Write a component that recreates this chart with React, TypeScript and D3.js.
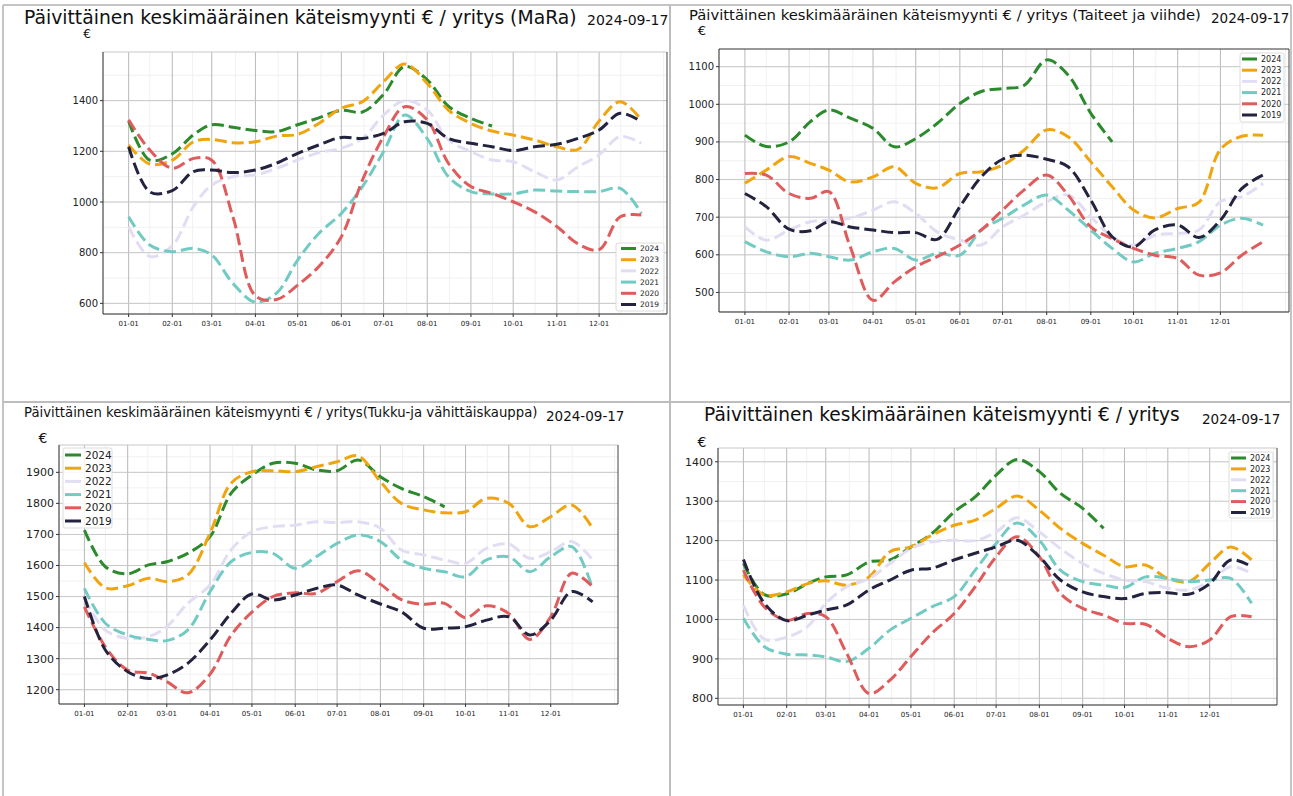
import { useLayoutEffect, useRef, useState } from "react";
import * as d3 from "d3";

// half-month sample days (day of year) shared by every series
const days = [0, 15, 31, 46, 59, 74, 90, 105, 120, 135, 151, 166, 181, 196, 212, 227, 243, 258, 273, 288, 304, 319, 334, 349, 364];
const monthTicks = [0, 31, 59, 90, 120, 151, 181, 212, 243, 273, 304, 334];
const monthLabels = ["01-01", "02-01", "03-01", "04-01", "05-01", "06-01", "07-01", "08-01", "09-01", "10-01", "11-01", "12-01"];
const years = ["2024", "2023", "2022", "2021", "2020", "2019"];
const yearColors = ["#2b8a2b", "#f0a50f", "#e3ddf3", "#72cbc3", "#e05c5c", "#23233f"];
const dateLabel = "2024-09-17";

// MaRa
const mara2024 = [1320, 1165, 1190, 1265, 1305, 1295, 1282, 1278, 1305, 1332, 1362, 1355, 1425, 1535, 1482, 1378, 1330, 1300];
const mara2023 = [1225, 1150, 1165, 1238, 1247, 1234, 1238, 1260, 1267, 1310, 1370, 1396, 1475, 1545, 1468, 1363, 1310, 1280, 1264, 1245, 1218, 1208, 1320, 1396, 1324];
const mara2022 = [903, 785, 828, 982, 1067, 1100, 1107, 1133, 1166, 1195, 1212, 1251, 1343, 1400, 1363, 1245, 1199, 1166, 1159, 1120, 1087, 1139, 1186, 1258, 1232];
const mara2021 = [942, 830, 804, 817, 791, 679, 605, 640, 771, 876, 955, 1061, 1199, 1343, 1250, 1100, 1041, 1032, 1032, 1047, 1043, 1041, 1041, 1054, 955];
const mara2020 = [1324, 1205, 1133, 1172, 1165, 942, 630, 615, 672, 745, 863, 1087, 1258, 1376, 1324, 1153, 1061, 1034, 1001, 962, 903, 835, 812, 942, 949];
const mara2019 = [1218, 1040, 1045, 1120, 1126, 1116, 1126, 1153, 1192, 1225, 1255, 1251, 1271, 1317, 1310, 1251, 1232, 1218, 1203, 1218, 1228, 1251, 1284, 1350, 1317];

// Taiteet ja viihde
const taiteet2024 = [918, 888, 900, 954, 985, 963, 936, 887, 909, 949, 1002, 1034, 1042, 1050, 1118, 1078, 976, 900];
const taiteet2023 = [790, 825, 861, 843, 825, 794, 807, 834, 790, 778, 816, 821, 838, 878, 932, 914, 847, 781, 719, 698, 723, 740, 880, 915, 918];
const taiteet2022 = [674, 639, 666, 688, 692, 697, 719, 741, 710, 661, 639, 626, 674, 705, 741, 759, 701, 648, 626, 652, 657, 666, 741, 754, 790];
const taiteet2021 = [635, 608, 595, 604, 595, 586, 608, 617, 586, 604, 599, 666, 697, 732, 759, 719, 666, 617, 581, 604, 617, 635, 679, 697, 679];
const taiteet2020 = [816, 812, 763, 750, 768, 621, 479, 528, 568, 595, 626, 666, 719, 772, 812, 759, 674, 643, 617, 599, 590, 546, 552, 599, 635];
const taiteet2019 = [763, 728, 668, 664, 688, 674, 666, 659, 659, 641, 728, 807, 854, 865, 854, 834, 745, 648, 621, 666, 679, 646, 692, 776, 812];

// Tukku- ja vähittäiskauppa
const tukku2024 = [1714, 1596, 1573, 1602, 1612, 1639, 1693, 1832, 1891, 1929, 1929, 1908, 1905, 1940, 1886, 1848, 1822, 1789];
const tukku2023 = [1609, 1528, 1535, 1559, 1548, 1569, 1704, 1865, 1902, 1905, 1902, 1918, 1934, 1953, 1870, 1800, 1779, 1770, 1773, 1816, 1800, 1725, 1757, 1795, 1720];
const tukku2022 = [1494, 1392, 1365, 1371, 1403, 1478, 1537, 1650, 1709, 1725, 1730, 1741, 1738, 1741, 1720, 1650, 1634, 1618, 1607, 1655, 1669, 1623, 1644, 1677, 1618];
const tukku2021 = [1526, 1414, 1376, 1362, 1358, 1392, 1516, 1612, 1642, 1639, 1591, 1628, 1671, 1698, 1677, 1618, 1591, 1580, 1564, 1618, 1628, 1580, 1628, 1661, 1526];
const tukku2020 = [1467, 1338, 1263, 1253, 1226, 1190, 1250, 1375, 1450, 1500, 1512, 1510, 1548, 1583, 1540, 1490, 1475, 1478, 1432, 1470, 1445, 1362, 1435, 1575, 1532];
const tukku2019 = [1500, 1328, 1258, 1236, 1247, 1285, 1360, 1446, 1508, 1489, 1505, 1526, 1537, 1505, 1476, 1451, 1398, 1398, 1403, 1424, 1435, 1376, 1424, 1516, 1483];

// Kaikki toimialat
const kaikki2024 = [1142, 1063, 1065, 1091, 1108, 1113, 1146, 1151, 1184, 1218, 1273, 1311, 1366, 1406, 1375, 1320, 1282, 1231];
const kaikki2023 = [1113, 1062, 1070, 1091, 1098, 1087, 1108, 1172, 1184, 1214, 1239, 1252, 1282, 1313, 1277, 1231, 1193, 1163, 1134, 1138, 1104, 1096, 1142, 1184, 1151];
const kaikki2022 = [1036, 950, 955, 982, 1041, 1083, 1104, 1142, 1180, 1197, 1201, 1200, 1222, 1258, 1222, 1180, 1142, 1117, 1100, 1096, 1079, 1075, 1096, 1134, 1117];
const kaikki2021 = [1003, 931, 912, 910, 905, 893, 927, 973, 1003, 1032, 1058, 1125, 1193, 1245, 1201, 1125, 1096, 1087, 1081, 1108, 1104, 1096, 1100, 1104, 1041];
const kaikki2020 = [1125, 1032, 998, 1015, 1007, 914, 812, 846, 906, 965, 1015, 1083, 1159, 1210, 1159, 1066, 1028, 1011, 990, 988, 952, 931, 948, 1007, 1007];
const kaikki2019 = [1152, 1041, 997, 1011, 1024, 1037, 1075, 1100, 1125, 1130, 1151, 1168, 1184, 1201, 1159, 1100, 1070, 1058, 1053, 1066, 1068, 1064, 1091, 1151, 1134];

const FONT = "DejaVu Sans, Verdana, sans-serif";

// layout of the four screenshots
const panels = [
  {
    title: "Päivittäinen keskimääräinen käteismyynti € / yritys (MaRa)",
    tx: 24, ty: 24, tSize: 17.5, tLen: 553,
    dx: 587, dy: 25, dSize: 14,
    ex: 87, ey: 38, eSize: 12,
    left: 103, right: 667, top: 52, bottom: 314,
    yDomain: [558, 1592], yTicks: [600, 800, 1000, 1200, 1400], yMinor: 100, ySize: 10,
    series: [mara2024, mara2023, mara2022, mara2021, mara2020, mara2019],
    legend: { x: 616, y: 243, w: 48, h: 68, first: 248.5, row: 11.2, hx0: 621, hx1: 636, lx: 640, size: 7.5 },
    topFrame: "#c8c8c8",
  },
  {
    title: "Päivittäinen keskimääräinen käteismyynti € / yritys (Taiteet ja viihde)",
    tx: 689, ty: 20, tSize: 15.5, tLen: 512,
    dx: 1211, dy: 23, dSize: 13.5,
    ex: 702, ey: 35, eSize: 13,
    left: 719, right: 1289, top: 49, bottom: 312,
    yDomain: [448, 1147], yTicks: [500, 600, 700, 800, 900, 1000, 1100], yMinor: 50, ySize: 10,
    series: [taiteet2024, taiteet2023, taiteet2022, taiteet2021, taiteet2020, taiteet2019],
    legend: { x: 1240, y: 53, w: 44, h: 69, first: 59, row: 11.2, hx0: 1242, hx1: 1257, lx: 1261, size: 8 },
    topFrame: "#333",
  },
  {
    title: "Päivittäinen keskimääräinen käteismyynti € / yritys(Tukku-ja vähittäiskauppa)",
    tx: 24, ty: 417, tSize: 14, tLen: 514,
    dx: 546, dy: 421, dSize: 13.5,
    ex: 43, ey: 443, eSize: 14,
    left: 59, right: 618, top: 445, bottom: 704,
    yDomain: [1154, 1988], yTicks: [1200, 1300, 1400, 1500, 1600, 1700, 1800, 1900], yMinor: 50, ySize: 11,
    series: [tukku2024, tukku2023, tukku2022, tukku2021, tukku2020, tukku2019],
    legend: { x: 63, y: 448, w: 49, h: 80, first: 455, row: 13.2, hx0: 65, hx1: 81, lx: 85, size: 10.5 },
    topFrame: "#c8c8c8",
  },
  {
    title: "Päivittäinen keskimääräinen käteismyynti € / yritys",
    tx: 704, ty: 421, tSize: 19, tLen: 476,
    dx: 1202, dy: 424, dSize: 13.5,
    ex: 702, ey: 447, eSize: 14,
    left: 718, right: 1277, top: 448, bottom: 705,
    yDomain: [783, 1435], yTicks: [800, 900, 1000, 1100, 1200, 1300, 1400], yMinor: 50, ySize: 11,
    series: [kaikki2024, kaikki2023, kaikki2022, kaikki2021, kaikki2020, kaikki2019],
    legend: { x: 1229, y: 452, w: 44, h: 66, first: 458, row: 10.9, hx0: 1231, hx1: 1246, lx: 1250, size: 8 },
    topFrame: "#c8c8c8",
  },
];

// title text whose font size is scaled so it spans the measured width of the screenshot
function FitTitle({ x, y, size, width, children }: any) {
  const ref = useRef<SVGTextElement>(null);
  const [fs, setFs] = useState(size);
  useLayoutEffect(() => {
    if (!ref.current) return;
    const w = ref.current.getComputedTextLength();
    if (w > 0 && Math.abs(w - width) > 1) setFs((s: number) => (s * width) / w);
  }, [width]);
  return (
    <text ref={ref} x={x} y={y} fontSize={fs} fill="#111">
      {children}
    </text>
  );
}

function Panel({ p }: { p: any }) {
  const x = d3.scaleLinear([-18.2, 382.2], [p.left, p.right]);
  const y = d3.scaleLinear(p.yDomain, [p.bottom, p.top]);
  const line = d3
    .line<[number, number]>()
    .x((d) => x(d[0]))
    .y((d) => y(d[1]))
    .curve(d3.curveCatmullRom.alpha(0.5));

  const minorX = d3.range(15, 382, 30.4);
  const minorY = d3.range(Math.ceil(p.yDomain[0] / p.yMinor) * p.yMinor, p.yDomain[1], p.yMinor);
  const lg = p.legend;

  return (
    <g>
      <FitTitle x={p.tx} y={p.ty} size={p.tSize} width={p.tLen}>
        {p.title}
      </FitTitle>
      <text x={p.dx} y={p.dy} fontSize={p.dSize} fill="#111">{dateLabel}</text>
      <text x={p.ex} y={p.ey} fontSize={p.eSize} textAnchor="middle" fill="#111">€</text>

      <rect x={p.left} y={p.top} width={p.right - p.left} height={p.bottom - p.top} fill="#fff" />
      {minorX.map((d, i) => (
        <line key={"mx" + i} x1={x(d)} x2={x(d)} y1={p.top} y2={p.bottom} stroke="#f1f1f1" />
      ))}
      {minorY.map((v, i) => (
        <line key={"my" + i} x1={p.left} x2={p.right} y1={y(v)} y2={y(v)} stroke="#f1f1f1" />
      ))}
      {monthTicks.map((d, i) => (
        <line key={"gx" + i} x1={x(d)} x2={x(d)} y1={p.top} y2={p.bottom} stroke="#b8b8b8" />
      ))}
      {p.yTicks.map((v: number, i: number) => (
        <line key={"gy" + i} x1={p.left} x2={p.right} y1={y(v)} y2={y(v)} stroke="#c8c8c8" />
      ))}

      {p.series.map((vals: number[], i: number) => (
        <path
          key={years[i]}
          d={line(vals.map((v, j) => [days[j], v] as [number, number])) || ""}
          fill="none"
          stroke={yearColors[i]}
          strokeWidth={3}
          strokeDasharray="12 5"
        />
      ))}

      <line x1={p.left} x2={p.right} y1={p.top} y2={p.top} stroke={p.topFrame} />
      <line x1={p.right} x2={p.right} y1={p.top} y2={p.bottom} stroke="#444" />
      <line x1={p.left} x2={p.left} y1={p.top} y2={p.bottom} stroke="#222" />
      <line x1={p.left} x2={p.right} y1={p.bottom} y2={p.bottom} stroke="#222" />

      {monthTicks.map((d, i) => (
        <g key={"tx" + i}>
          <line x1={x(d)} x2={x(d)} y1={p.bottom} y2={p.bottom + 3} stroke="#333" />
          <text x={x(d)} y={p.bottom + 12} fontSize={7} textAnchor="middle" fill="#222">
            {monthLabels[i]}
          </text>
        </g>
      ))}
      {p.yTicks.map((v: number, i: number) => (
        <g key={"ty" + i}>
          <line x1={p.left - 3} x2={p.left} y1={y(v)} y2={y(v)} stroke="#333" />
          <text x={p.left - 5} y={y(v)} dy="0.35em" fontSize={p.ySize} textAnchor="end" fill="#222">
            {v}
          </text>
        </g>
      ))}

      <rect x={lg.x} y={lg.y} width={lg.w} height={lg.h} rx={2} fill="#fff" fillOpacity={0.85} stroke="#dcdcdc" />
      {years.map((yr, i) => (
        <g key={"lg" + yr}>
          <line
            x1={lg.hx0}
            x2={lg.hx1}
            y1={lg.first + i * lg.row}
            y2={lg.first + i * lg.row}
            stroke={yearColors[i]}
            strokeWidth={3}
          />
          <text x={lg.lx} y={lg.first + i * lg.row} dy="0.35em" fontSize={lg.size} fill="#222">
            {yr}
          </text>
        </g>
      ))}
    </g>
  );
}

export default function App() {
  return (
    <svg
      width={1293}
      height={796}
      style={{ position: "absolute", left: 0, top: 0, background: "#fff" }}
      fontFamily={FONT}
    >
      <rect width={1293} height={796} fill="#fff" />
      {panels.map((p, i) => (
        <Panel key={i} p={p} />
      ))}
      {/* screenshot frame lines */}
      <line x1={3} x2={1291} y1={5} y2={5} stroke="#c4c4c4" strokeWidth={2} />
      <line x1={3} x2={3} y1={5} y2={796} stroke="#c4c4c4" strokeWidth={2} />
      <line x1={670} x2={670} y1={5} y2={796} stroke="#bdbdbd" strokeWidth={2} />
      <line x1={3} x2={1291} y1={402} y2={402} stroke="#bdbdbd" strokeWidth={2} />
      <line x1={1291} x2={1291} y1={5} y2={796} stroke="#c4c4c4" strokeWidth={2} />
    </svg>
  );
}
